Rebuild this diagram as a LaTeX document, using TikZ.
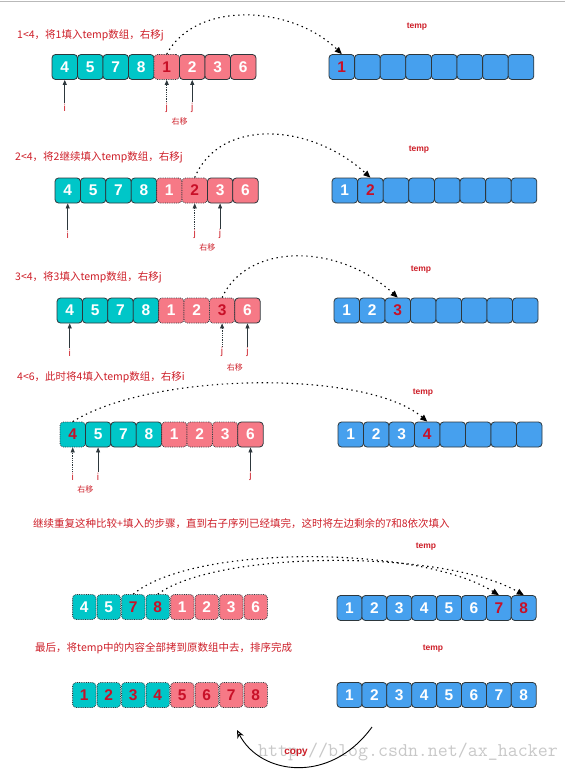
\documentclass[tikz,border=0pt]{standalone}
\usepackage{fontspec}
\setmainfont{Liberation Sans}
\newfontfamily\cjk{Noto Sans CJK SC}
\usetikzlibrary{arrows.meta,calc}
\definecolor{tealc}{RGB}{0,198,200}
\definecolor{pinkc}{RGB}{246,121,134}
\definecolor{bluec}{RGB}{70,160,238}
\definecolor{numred}{RGB}{200,16,40}
\definecolor{lblred}{RGB}{205,30,40}
\definecolor{cellborder}{RGB}{45,55,60}
\definecolor{wmgray}{RGB}{200,200,200}
% #1 prefix, #2 x0, #3 y centre, #4 step, #5 gap, #6 list style/text
\newcommand\cellrow[6]{%
  \foreach \s/\t [count=\k] in {#6} {%
    \node[\s, minimum width={#4pt-#5pt}] (#1\k) at ({#2+(\k-0.5)*#4}, #3) {\t};
  }%
}
\begin{document}
\begin{tikzpicture}[x=1pt,y=-1pt,
  cellbase/.style={rectangle, rounded corners=3.5pt, draw=cellborder, line width=0.8pt,
    minimum height=25pt, inner sep=0pt, text=white,
    font=\bfseries\fontsize{15.5}{15.5}\selectfont},
  cT/.style={cellbase, fill=tealc},
  cTd/.style={cT, densely dotted},
  cTdr/.style={cTd, text=numred},
  cP/.style={cellbase, fill=pinkc},
  cPd/.style={cP, densely dotted},
  cPdr/.style={cPd, text=numred},
  cB/.style={cellbase, fill=bluec},
  cBr/.style={cB, text=numred},
  lbl/.style={text=lblred, font=\cjk\fontsize{10.5}{12}\selectfont, anchor=west, inner sep=0pt},
  tmp/.style={text=lblred, font=\bfseries\fontsize{8.5}{10}\selectfont, inner sep=0pt},
  ij/.style={text=lblred, font=\fontsize{10}{12}\selectfont, inner sep=1pt},
  ry/.style={text=lblred, font=\cjk\fontsize{8}{10}\selectfont, inner sep=0pt},
  ptr/.style={draw=cellborder, line width=0.8pt, -{Triangle[length=5pt,width=4pt]}},
  ptrd/.style={ptr, densely dotted},
  curv/.style={draw=black, line width=1.1pt, dash pattern=on 1.4pt off 3.6pt,
    -{Triangle[length=7pt,width=6pt]}},
  copyarr/.style={draw=black, line width=0.9pt, -{Stealth[open,length=8pt,width=7pt]}}
]
\useasboundingbox (0,0) rectangle (575,773);
\draw[gray!55, line width=0.8pt] (0,1) -- (565,1);

% ---------- Row 1
\node[lbl] (t1) at (17,35) {1<4，将1填入temp数组，右移j};
\node[tmp] (tp1) at (417,27) {temp};
\cellrow{r1L}{52}{67}{25.5}{0}{cT/4,cT/5,cT/7,cT/8,cPdr/1,cP/2,cP/3,cP/6}
\cellrow{r1R}{329}{67}{25.6}{0}{cBr/1,cB/{},cB/{},cB/{},cB/{},cB/{},cB/{},cB/{}}
\node[ij] (r1a) at ($(r1L1.south)+(0,28)$) {i};
\node[ij] (r1b) at ($(r1L5.south)+(0,28)$) {j};
\node[ij] (r1c) at ($(r1L6.south)+(0,28)$) {j};
\node[ry] (r1m) at ($(r1b)!0.5!(r1c)+(0,14)$) {右移};
\draw[ptr] (r1a.north) -- (r1L1.south);
\draw[ptrd] (r1b.north) -- (r1L5.south);
\draw[ptr] (r1c.north) -- (r1L6.south);
\draw[curv] (r1L5.north) .. controls +(29,-54) and +(-50,-49) .. (r1R1.north);

% ---------- Row 2
\node[lbl] (t2) at (15,157) {2<4，将2继续填入temp数组，右移j};
\node[tmp] (tp2) at (419,150) {temp};
\cellrow{r2L}{55}{190.5}{25.4}{0}{cT/4,cT/5,cT/7,cT/8,cPd/1,cPdr/2,cP/3,cP/6}
\cellrow{r2R}{332}{190.5}{25.6}{0}{cB/1,cBr/2,cB/{},cB/{},cB/{},cB/{},cB/{},cB/{}}
\node[ij] (r2a) at ($(r2L1.south)+(0,31)$) {i};
\node[ij] (r2b) at ($(r2L6.south)+(0,31)$) {j};
\node[ij] (r2c) at ($(r2L7.south)+(0,31)$) {j};
\node[ry] (r2m) at ($(r2b)!0.5!(r2c)+(0,13)$) {右移};
\draw[ptr] (r2a.north) -- (r2L1.south);
\draw[ptrd] (r2b.north) -- (r2L6.south);
\draw[ptr] (r2c.north) -- (r2L7.south);
\draw[curv] (r2L6.north) .. controls +(25,-60) and +(-60,-55) .. (r2R2.north);

% ---------- Row 3
\node[lbl] (t3) at (15,277) {3<4，将3填入temp数组，右移j};
\node[tmp] (tp3) at (421,270) {temp};
\cellrow{r3L}{57}{310.5}{25.4}{0}{cT/4,cT/5,cT/7,cT/8,cPd/1,cPd/2,cPdr/3,cP/6}
\cellrow{r3R}{334}{310.5}{25.5}{0}{cB/1,cB/2,cBr/3,cB/{},cB/{},cB/{},cB/{},cB/{}}
\node[ij] (r3a) at ($(r3L1.south)+(0,29)$) {i};
\node[ij] (r3b) at ($(r3L7.south)+(0,29)$) {j};
\node[ij] (r3c) at ($(r3L8.south)+(0,29)$) {j};
\node[ry] (r3m) at ($(r3b)!0.5!(r3c)+(0,15)$) {右移};
\draw[ptr] (r3a.north) -- (r3L1.south);
\draw[ptrd] (r3b.north) -- (r3L7.south);
\draw[ptr] (r3c.north) -- (r3L8.south);
\draw[curv] (r3L7.north) .. controls +(25,-55) and +(-60,-55) .. (r3R3.north);

% ---------- Row 4
\node[lbl] (t4) at (17,377) {4<6，此时将4填入temp数组，右移i};
\node[tmp] (tp4) at (423,393) {temp};
\cellrow{r4L}{60}{434.5}{25.4}{0}{cTdr/4,cT/5,cT/7,cT/8,cPd/1,cPd/2,cPd/3,cP/6}
\cellrow{r4R}{338}{434.5}{25.5}{0}{cB/1,cB/2,cB/3,cBr/4,cB/{},cB/{},cB/{},cB/{}}
\node[ij] (r4a) at ($(r4L1.south)+(0,29)$) {i};
\node[ij] (r4b) at ($(r4L2.south)+(0,29)$) {i};
\node[ij] (r4c) at ($(r4L8.south)+(0,29)$) {j};
\node[ry] (r4m) at ($(r4a)!0.5!(r4b)+(0,13)$) {右移};
\draw[ptrd] (r4a.north) -- (r4L1.south);
\draw[ptr] (r4b.north) -- (r4L2.south);
\draw[ptr] (r4c.north) -- (r4L8.south);
\draw[curv] (r4L1.north) .. controls +(80,-50) and +(-60,-52) .. (r4R4.north);

% ---------- Row 5
\node[lbl] (t5) at (33,524) {继续重复这种比较+填入的步骤，直到右子序列已经填完，这时将左边剩余的7和8依次填入};
\node[tmp] (tp5) at (426,547) {temp};
\cellrow{r5L}{72}{607}{24.5}{1.2}{cTd/4,cTd/5,cTdr/7,cTdr/8,cPd/1,cPd/2,cPd/3,cPd/6}
\cellrow{r5R}{337}{608}{24.9}{0}{cB/1,cB/2,cB/3,cB/4,cB/5,cB/6,cBr/7,cBr/8}
\draw[curv] (r5L3.north) .. controls +(60,-50) and +(-80,-50) .. (r5R7.north);
\draw[curv] (r5L4.north) .. controls +(60,-44) and +(-80,-46) .. (r5R8.north);

% ---------- Row 6
\node[lbl] (t6) at (35,648) {最后，将temp中的内容全部拷到原数组中去，排序完成};
\node[tmp] (tp6) at (433,649) {temp};
\cellrow{r6L}{72}{695}{24.5}{1.2}{cTdr/1,cTdr/2,cTdr/3,cTdr/4,cPdr/5,cPdr/6,cPdr/7,cPdr/8}
\cellrow{r6R}{337}{695}{24.9}{0}{cB/1,cB/2,cB/3,cB/4,cB/5,cB/6,cB/7,cB/8}

\node[text=wmgray, font=\ttfamily\fontsize{19.4}{19.4}\selectfont, inner sep=0pt] (wm) at (408,752) {http://blog.csdn.net/ax\_hacker};
\coordinate (cs) at (372,727);
\coordinate (ce) at (237,730);
\draw[copyarr] (cs) .. controls (330,785) and (260,775) .. (ce);
\node[text=lblred, font=\bfseries\fontsize{10}{12}\selectfont, inner sep=0pt] (cp) at (296,753) {copy};
\end{tikzpicture}
\end{document}
